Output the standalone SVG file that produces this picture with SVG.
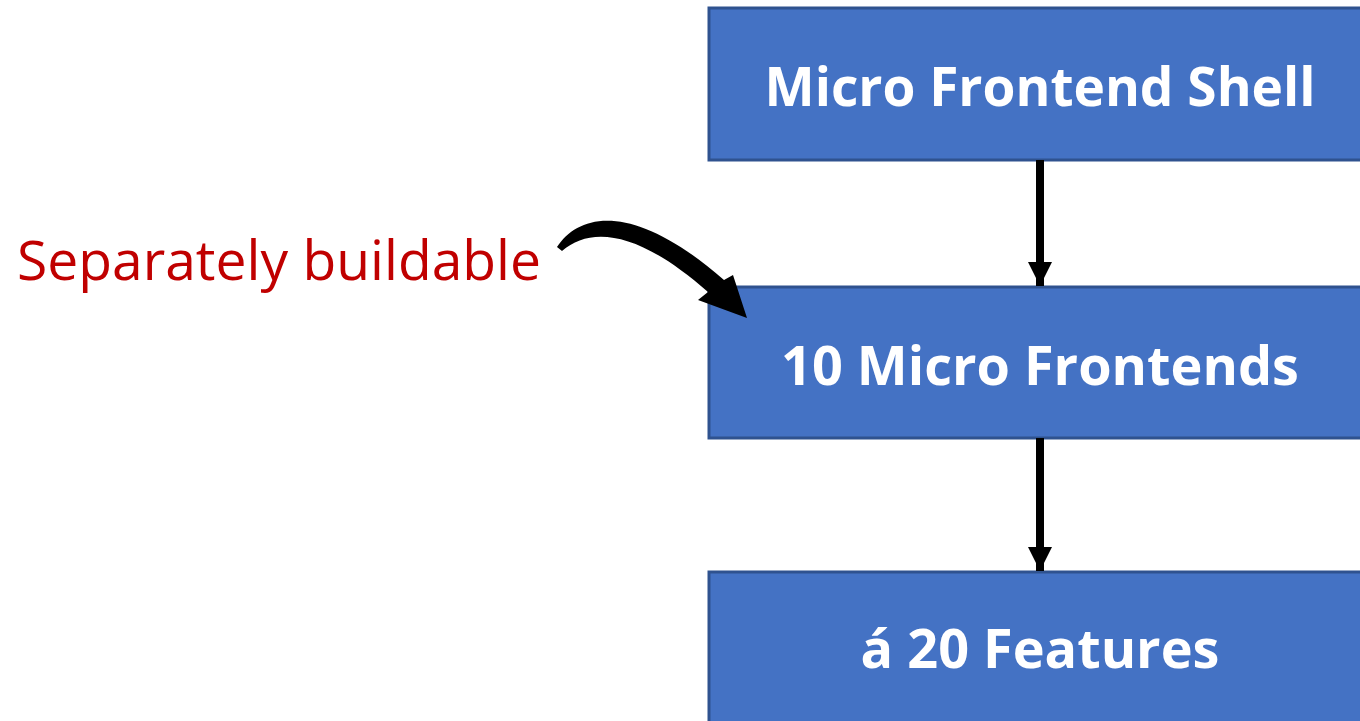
<svg xmlns="http://www.w3.org/2000/svg" width="1360" height="721" viewBox="0 0 1360 721">
<style>
.box{fill:#4472C4;stroke:#2F528F;stroke-width:3}
.lbl{font-family:"Open Sans","Liberation Sans",sans-serif;font-weight:bold;font-size:54px;fill:#FFFFFF;text-anchor:middle}
.note{font-family:"Open Sans","Liberation Sans",sans-serif;font-size:55px;fill:#C00000}
.conn{stroke:#000;stroke-width:8;fill:none}
</style>
<defs>
<marker id="ah" markerUnits="userSpaceOnUse" markerWidth="24" markerHeight="24" refX="24" refY="12" orient="auto">
<path d="M0,0 L24,12 L0,24 Z" fill="#000"/>
</marker>
</defs>
<rect width="1360" height="721" fill="#FFFFFF"/>
<g id="node-shell">
<rect class="box" x="709" y="8" width="660" height="152"/>
<text class="lbl" x="1040" y="106" textLength="551" lengthAdjust="spacingAndGlyphs">Micro Frontend Shell</text>
</g>
<g id="node-mfe">
<rect class="box" x="709" y="287" width="660" height="151"/>
<text class="lbl" x="1040" y="385">10 Micro Frontends</text>
</g>
<g id="node-features">
<rect class="box" x="709" y="572" width="660" height="160"/>
<text class="lbl" x="1040" y="668">á 20 Features</text>
</g>
<g id="note">
<text class="note" x="17" y="280" textLength="524" lengthAdjust="spacingAndGlyphs">Separately buildable</text>
</g>
<g id="connectors">
<line class="conn" x1="1040" y1="160" x2="1040" y2="286" marker-end="url(#ah)"/>
<line class="conn" x1="1040" y1="438" x2="1040" y2="571" marker-end="url(#ah)"/>
<path d="M557,247 C580,212 635,202 724,280 L733,275 L747,318 L698,300 L708,292 C640,232 592,225 562,251 Z" fill="#000"/>
</g>
</svg>
